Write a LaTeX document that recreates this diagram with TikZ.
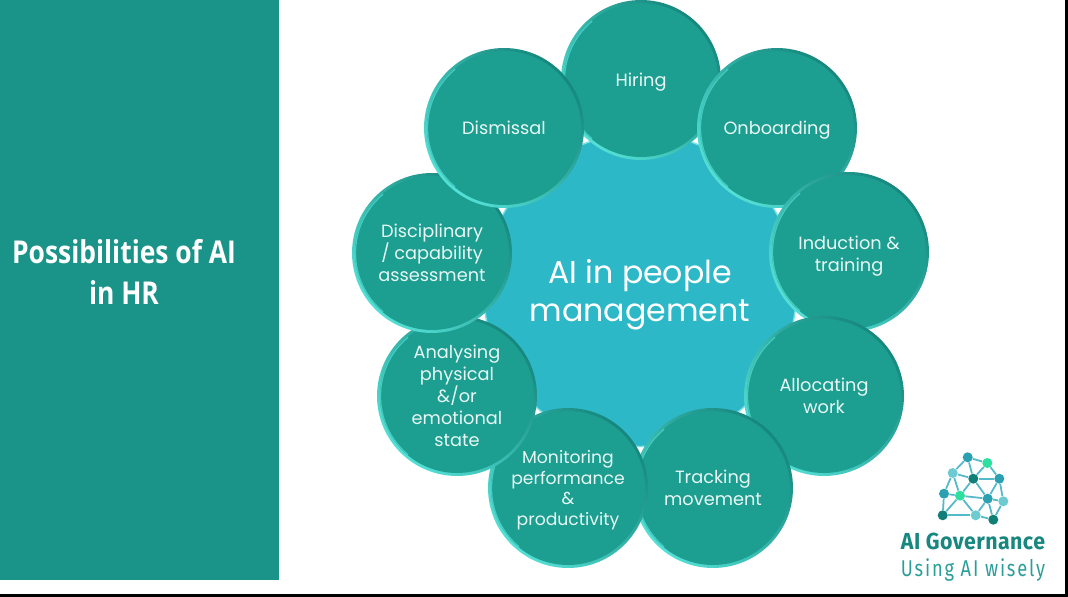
\documentclass[tikz,border=0pt]{standalone}
\usepackage{fontspec}
\setmainfont{Poppins}
\newfontfamily\titlefont[FakeStretch=0.84]{Open Sans}
\newfontfamily\brandfont[LetterSpace=2, FakeStretch=0.92]{Fira Sans}
\newfontfamily\mottofont[LetterSpace=8, FakeStretch=0.8]{Fira Sans}
\definecolor{barcolor}{RGB}{26, 148, 136}
\definecolor{hubcolor}{RGB}{45, 184, 200}
\definecolor{hubrim}{RGB}{120, 225, 228}
\definecolor{disccolor}{RGB}{28, 158, 144}
\definecolor{rimdark}{RGB}{22, 135, 125}
\definecolor{rimlight}{RGB}{84, 224, 214}
\definecolor{textcolor}{RGB}{232, 248, 245}
\definecolor{logodark}{RGB}{23, 135, 127}
\definecolor{logomid}{RGB}{44, 158, 154}
\definecolor{logoline}{RGB}{84, 186, 202}
\definecolor{logoblue}{RGB}{42, 160, 176}
\definecolor{logogreen}{RGB}{46, 224, 160}
\definecolor{logopale}{RGB}{108, 203, 208}
\definecolor{logodeep}{RGB}{15, 127, 120}

\begin{document}
\begin{tikzpicture}[
    x=0.02cm, y=-0.02cm,
    disc/.style={circle, minimum size=3.2cm, inner sep=0pt, align=center,
      text=textcolor, font=\fontsize{10.1}{12.6}\selectfont,
      shading=axis, left color=rimdark, right color=rimlight, shading angle=-45,
      path picture={
        \fill[disccolor] (path picture bounding box.center) circle (1.54cm);
        \draw[rimlight!70!disccolor, line width=0.7pt, line cap=round]
          (path picture bounding box.center) ++(130:1.53cm) arc (130:230:1.53cm);
      }},
    dropped/.style={execute at begin node={\rule{0pt}{#1}}},
    hub/.style={circle, minimum size=6.26cm, inner sep=0pt,
      fill=hubcolor, draw=hubrim, line width=0.8pt},
    hub label/.style={align=center, text=white, font=\fontsize{18}{21.8}\selectfont},
    dot/.style={circle, minimum size=0.2cm, inner sep=0pt},
    link/.style={logoline, line width=1pt},
  ]

  % --- Page ---
  \fill[black] (0, 0) rectangle (1068, 597);
  \fill[white] (0, 0) rectangle (1065, 594);
  \useasboundingbox (0, 0) rectangle (1068, 597);

  % --- Side bar ---
  \fill[barcolor] (0, 0) rectangle (279, 580);
  \node[text=white, align=center, font=\titlefont\bfseries\fontsize{17.9}{23}\selectfont] (title) at (124, 272)
    {Possibilities of AI\\in HR};

  % --- Ring, last one on top ---
  \node[hub] (hub) at (640, 290) {};
  \node[hub label] (hubtext) at (640, 295) {AI in people\\management};
  \node[disc, dropped=9.9pt] (hiring) at (641, 80) {Hiring};
  \node[disc, dropped=10.2pt] (onboarding) at (777, 128) {Onboarding};
  \node[disc] (induction) at (849, 252) {\rule{0pt}{12.2pt}Induction \&\\training};
  \node[disc] (allocating) at (824, 396) {Allocating\\work};
  \node[disc, dropped=8.7pt] (tracking) at (713, 488) {Tracking\\movement};
  \node[disc, font=\fontsize{9.8}{11.8}\selectfont] (monitoring) at (568, 488) {\rule{0pt}{9.9pt}Monitoring\\performance\\\&\\productivity};
  \node[disc] (analysing) at (457, 396) {Analysing\\physical\\\&/or\\emotional\\state};
  \node[disc] (disciplinary) at (432, 253) {Disciplinary\\/ capability\\assessment};
  \node[disc] (dismissal) at (504, 128) {Dismissal};

  % --- Logo ---
  \node[dot, fill=logoblue] (n1) at (967.7, 457.3) {};
  \node[dot, fill=logogreen] (n2) at (987.3, 463) {};
  \node[dot, fill=logopale] (n3) at (952.7, 473) {};
  \node[dot, fill=logodeep] (n4) at (973.3, 478.7) {};
  \node[dot, fill=logoblue] (n5) at (999.3, 478.7) {};
  \node[dot, fill=logoblue] (n6) at (944, 493.7) {};
  \node[dot, fill=logogreen] (n7) at (960, 495.7) {};
  \node[dot, fill=logoblue] (n8) at (987.7, 498.7) {};
  \node[dot, fill=logopale] (n9) at (1003.3, 501.3) {};
  \node[dot, fill=logodeep] (n10) at (942.7, 515.3) {};
  \node[dot, fill=logopale] (n11) at (975.7, 515.3) {};
  \node[dot, fill=logodeep] (n12) at (993.3, 519.7) {};
  \foreach \a/\b in {1/2, 1/3, 1/4, 2/4, 2/5, 3/4, 3/6, 3/7, 4/5, 4/7, 4/8, 5/8,
      5/9, 6/7, 6/10, 7/10, 7/8, 7/11, 8/9, 8/11, 8/12, 9/12, 11/12, 10/11} {
    \draw[link] (n\a) -- (n\b);
  }
  \node[text=logodark, font=\brandfont\bfseries\fontsize{13.2}{15}\selectfont] (brand) at (973, 541) {AI Governance};
  \node[text=logomid, font=\mottofont\fontsize{13}{15}\selectfont] (motto) at (973, 570) {Using AI wisely};

\end{tikzpicture}
\end{document}
